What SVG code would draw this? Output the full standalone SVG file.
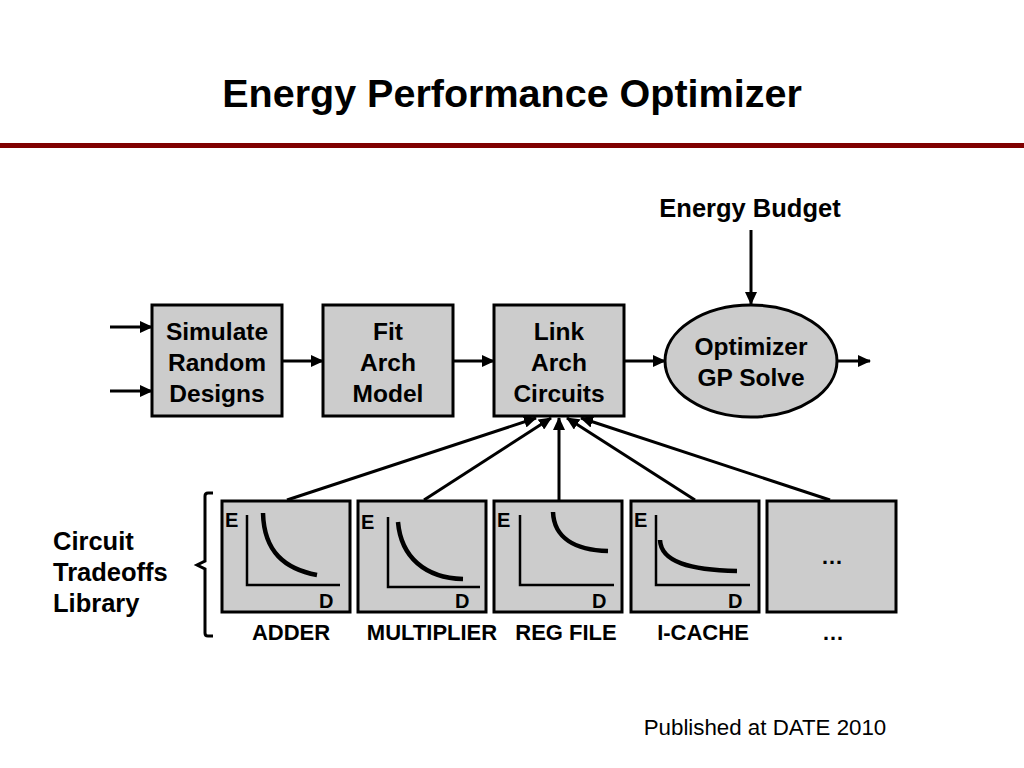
<svg xmlns="http://www.w3.org/2000/svg" width="1024" height="768" viewBox="0 0 1024 768">
<defs>
<style>
text{font-family:"Liberation Sans",Arial,sans-serif;fill:#000}
.b{font-weight:bold}
.box{fill:#cccccc;stroke:#000;stroke-width:3}
.conn{stroke:#000;stroke-width:3;fill:none}
.axis{stroke:#000;stroke-width:2.5;fill:none}
.curve{stroke:#000;stroke-width:4.5;fill:none}
.t24{font-size:24.5px;font-weight:bold;text-anchor:middle}
.lbl{font-size:22px;font-weight:bold;text-anchor:middle}
.ax{font-size:20px;font-weight:bold}
</style>
<marker id="ah" viewBox="0 0 13 12" refX="12" refY="6" markerWidth="13" markerHeight="12" markerUnits="userSpaceOnUse" orient="auto">
<path d="M0,0 L13,6 L0,12 z" fill="#000"/>
</marker>
</defs>
<rect width="1024" height="768" fill="#fff"/>
<text x="512" y="107" class="b" font-size="39.5" text-anchor="middle">Energy Performance Optimizer</text>
<rect x="0" y="143" width="1024" height="5" fill="#800000"/>

<g id="connectors">
<line class="conn" x1="110" y1="327" x2="152" y2="327" marker-end="url(#ah)"/>
<line class="conn" x1="110" y1="391" x2="152" y2="391" marker-end="url(#ah)"/>
<line class="conn" x1="282" y1="361" x2="323" y2="361" marker-end="url(#ah)"/>
<line class="conn" x1="453" y1="361" x2="494" y2="361" marker-end="url(#ah)"/>
<line class="conn" x1="624" y1="361" x2="665" y2="361" marker-end="url(#ah)"/>
<line class="conn" x1="837" y1="361" x2="870" y2="361" marker-end="url(#ah)"/>
<line class="conn" x1="751" y1="230" x2="751" y2="304" marker-end="url(#ah)"/>
<line class="conn" x1="287" y1="500" x2="536" y2="418" marker-end="url(#ah)"/>
<line class="conn" x1="424" y1="500" x2="551" y2="418" marker-end="url(#ah)"/>
<line class="conn" x1="559" y1="500" x2="559" y2="418" marker-end="url(#ah)"/>
<line class="conn" x1="695" y1="500" x2="567" y2="418" marker-end="url(#ah)"/>
<line class="conn" x1="830" y1="500" x2="581" y2="418" marker-end="url(#ah)"/>
</g>

<g id="simulate">
<rect class="box" x="152" y="305" width="130" height="111"/>
<text class="t24" x="217" y="340">Simulate</text>
<text class="t24" x="217" y="371">Random</text>
<text class="t24" x="217" y="402">Designs</text>
</g>
<g id="fit">
<rect class="box" x="323" y="305" width="130" height="111"/>
<text class="t24" x="388" y="340">Fit</text>
<text class="t24" x="388" y="371">Arch</text>
<text class="t24" x="388" y="402">Model</text>
</g>
<g id="link">
<rect class="box" x="494" y="305" width="130" height="111"/>
<text class="t24" x="559" y="340">Link</text>
<text class="t24" x="559" y="371">Arch</text>
<text class="t24" x="559" y="402">Circuits</text>
</g>
<g id="optimizer">
<ellipse class="box" cx="751" cy="361" rx="86" ry="56"/>
<text class="t24" x="751" y="355">Optimizer</text>
<text class="t24" x="751" y="386">GP Solve</text>
</g>
<g id="energy-budget">
<text class="t24" x="750" y="217" style="font-size:25.5px">Energy Budget</text>
</g>

<g id="library-label">
<text class="b" font-size="25.5" x="53" y="550">Circuit</text>
<text class="b" font-size="25.5" x="53" y="581">Tradeoffs</text>
<text class="b" font-size="25.5" x="53" y="612">Library</text>
<path d="M213,493 L208,493 Q205,493 205,496 L205,561 L197,565 L205,569 L205,633 Q205,636 208,636 L213,636" fill="none" stroke="#000" stroke-width="3"/>
</g>

<g id="adder">
<rect class="box" x="222" y="501" width="128" height="111"/>
<text class="ax" x="225" y="527">E</text>
<path class="axis" d="M247,515 L247,585 L340,585"/>
<path class="curve" d="M263,513 C264,552 285,569 317,575"/>
<text class="ax" x="319" y="608">D</text>
<text class="lbl" x="291" y="640">ADDER</text>
</g>
<g id="multiplier">
<rect class="box" x="358" y="501" width="128" height="111"/>
<text class="ax" x="361" y="529">E</text>
<path class="axis" d="M388,517 L388,587 L480,587"/>
<path class="curve" d="M398,522 C401,557 425,578 463,579"/>
<text class="ax" x="455" y="608">D</text>
<text class="lbl" x="432" y="640">MULTIPLIER</text>
</g>
<g id="regfile">
<rect class="box" x="494" y="501" width="128" height="111"/>
<text class="ax" x="497" y="527">E</text>
<path class="axis" d="M520,515 L520,585 L614,585"/>
<path class="curve" d="M553,512 C554,538 575,550 608,551"/>
<text class="ax" x="592" y="608">D</text>
<text class="lbl" x="566" y="640">REG FILE</text>
</g>
<g id="icache">
<rect class="box" x="631" y="501" width="128" height="111"/>
<text class="ax" x="634" y="527">E</text>
<path class="axis" d="M656,515 L656,585 L750,585"/>
<path class="curve" d="M660,540 C661,562 690,570 737,571"/>
<text class="ax" x="728" y="608">D</text>
<text class="lbl" x="703" y="640">I-CACHE</text>
</g>
<g id="more">
<rect class="box" x="767" y="501" width="129" height="111"/>
<text class="lbl" x="832" y="564">…</text>
<text class="lbl" x="833" y="640">…</text>
</g>

<text x="765" y="735" font-size="22.3" text-anchor="middle">Published at DATE 2010</text>
</svg>
